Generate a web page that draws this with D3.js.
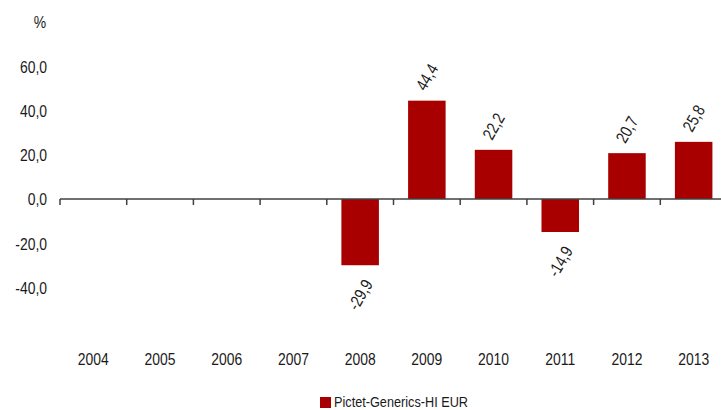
<!DOCTYPE html>
<html>
<head>
<meta charset="utf-8">
<script src="https://cdn.jsdelivr.net/npm/d3@7"></script>
<style>
  body { margin: 0; background: #fff; }
  text { font-family: "Liberation Sans", Arial, sans-serif; fill: #1a1a1a; }
</style>
</head>
<body>
<svg class="main-graphic"></svg>
<script>
var years = ["2004", "2005", "2006", "2007", "2008", "2009", "2010", "2011", "2012", "2013"];
var values = [null, null, null, null, -29.9, 44.4, 22.2, -14.9, 20.7, 25.8];
var yTicks = [-40, -20, 0, 20, 40, 60];
var seriesName = "Pictet-Generics-HI EUR";
var unitLabel = "%";

var width = 721, height = 410;
var barColor = "#a80000";
var sx = 0.82; // squeeze text to look like the condensed face

var fmt = function(v) { return d3.format(".1f")(v).replace(".", ",").replace("\u2212", "-"); };

var svg = d3.select(".main-graphic")
    .attr("width", width)
    .attr("height", height);

var x = d3.scaleBand()
    .domain(years)
    .range([60, 727]);

var y = d3.scaleLinear()
    .domain([-40, 60])
    .range([287.6, 66.1]);

var barW = x.bandwidth() * 0.5625;

function squeezed(px, py, rot) {
  return "translate(" + px + "," + py + ")" + (rot ? " rotate(" + rot + ")" : "") + " scale(" + sx + ",1)";
}

// y labels
svg.append("g")
    .attr("transform", "translate(60,0)")
    .call(d3.axisLeft(y).tickValues(yTicks).tickSize(0).tickPadding(0).tickFormat(fmt))
    .call(function(g) { g.select(".domain").remove(); })
    .selectAll("text")
    .attr("x", null)
    .attr("dy", "0.35em")
    .attr("transform", squeezed(-13, 0))
    .style("font-size", "17px")
    .style("font-family", "\"Liberation Sans\", sans-serif")
    .attr("fill", "#1a1a1a");

svg.append("text")
    .attr("transform", squeezed(40, 28))
    .attr("text-anchor", "middle")
    .style("font-size", "17px")
    .text(unitLabel);

// bars
var data = years.map(function(d, i) { return {year: d, value: values[i]}; })
    .filter(function(d) { return d.value != null; });

svg.selectAll(".bar")
    .data(data)
  .enter().append("rect")
    .attr("class", "bar")
    .attr("x", function(d) { return x(d.year) + (x.bandwidth() - barW) / 2; })
    .attr("width", barW)
    .attr("y", function(d) { return y(Math.max(0, d.value)); })
    .attr("height", function(d) { return Math.abs(y(d.value) - y(0)); })
    .attr("fill", barColor);

// zero line and category ticks
svg.append("line")
    .attr("x1", x.range()[0])
    .attr("x2", x.range()[1])
    .attr("y1", y(0))
    .attr("y2", y(0))
    .attr("stroke", "#404040")
    .attr("stroke-width", 1.5);

var bounds = years.map(function(d) { return x(d); }).concat([x.range()[1]]);
svg.selectAll(".xtick")
    .data(bounds)
  .enter().append("line")
    .attr("class", "xtick")
    .attr("x1", function(d) { return d; })
    .attr("x2", function(d) { return d; })
    .attr("y1", y(0))
    .attr("y2", y(0) + 6)
    .attr("stroke", "#404040")
    .attr("stroke-width", 1.5);

// year labels
svg.selectAll(".year")
    .data(years)
  .enter().append("text")
    .attr("class", "year")
    .attr("transform", function(d) { return squeezed(x(d) + x.bandwidth() / 2, 365); })
    .attr("text-anchor", "middle")
    .style("font-size", "17px")
    .text(function(d) { return d; });

// value labels
svg.selectAll(".val")
    .data(data)
  .enter().append("text")
    .attr("class", "val")
    .attr("text-anchor", "middle")
    .attr("dy", "0.35em")
    .attr("transform", function(d) {
      var cx = x(d.year) + x.bandwidth() / 2;
      var cy = d.value >= 0 ? y(d.value) - 23.5 : y(d.value) + 29.5;
      return squeezed(cx, cy, -60);
    })
    .style("font-size", "17px")
    .text(function(d) { return fmt(d.value); });

// legend
svg.append("rect")
    .attr("x", 320)
    .attr("y", 397)
    .attr("width", 11)
    .attr("height", 11)
    .attr("fill", barColor);

svg.append("text")
    .attr("transform", squeezed(334, 407))
    .style("font-size", "15.5px")
    .text(seriesName);
</script>
</body>
</html>
